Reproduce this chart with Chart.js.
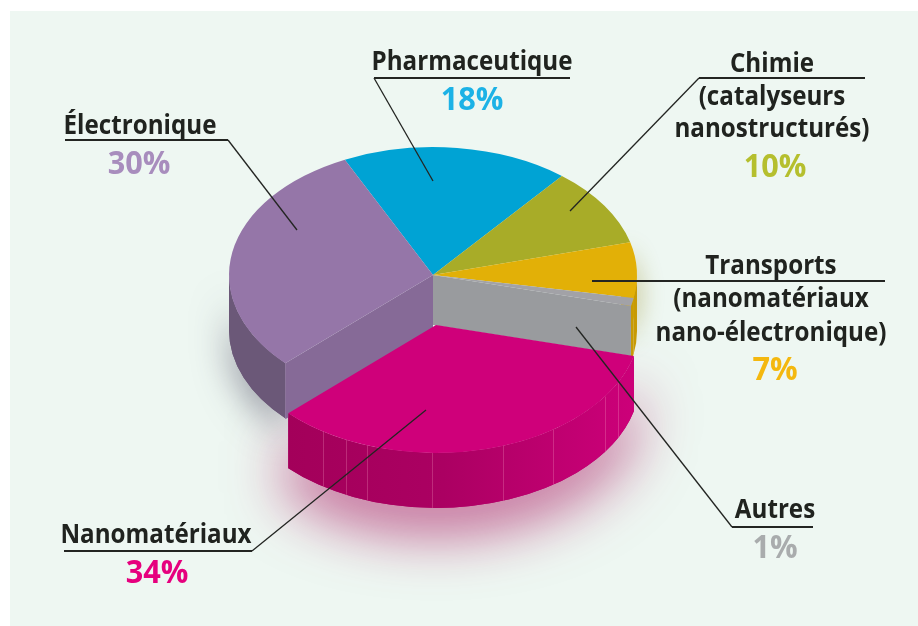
<!DOCTYPE html>
<html lang="fr">
<head>
<meta charset="utf-8">
<title>Nanomatériaux</title>
<style>
  html, body { margin: 0; background: #fff; }
  canvas { display: block; }
</style>
<script src="https://cdn.jsdelivr.net/npm/chart.js@4"></script>
</head>
<body>
<canvas id="camembert" width="918" height="626"></canvas>
<script>
// Donnees
const categories = ['Pharmaceutique', 'Chimie', 'Transports', 'Autres', 'Nanomatériaux', 'Électronique'];
const valeurs = [18, 10, 7, 1, 34, 30];
const couleurs = ['#00a3d4', '#a8ac28', '#e2b007', '#a2a2a7', '#cf007a', '#9576a8'];
const couleursTexte = ['#1cb2e6', '#b5bf2e', '#f4b80f', '#a9acad', '#e6007e', '#a88dbd'];

// Etiquettes : lignes de texte, centre x, lignes de base
const etiquettes = [
  { lignes: ['Pharmaceutique'], x: 472, y: [70], xPct: 472, yPct: 110 },
  { lignes: ['Chimie', '(catalyseurs', 'nanostructurés)'], x: 772, y: [72, 105, 137], xPct: 775, yPct: 177 },
  { lignes: ['Transports', '(nanomatériaux', 'nano-électronique)'], x: 771, y: [274, 307, 341], xPct: 775, yPct: 380 },
  { lignes: ['Autres'], x: 775, y: [518], xPct: 775, yPct: 558 },
  { lignes: ['Nanomatériaux'], x: 156, y: [543], xPct: 157, yPct: 583 },
  { lignes: ['Électronique'], x: 140, y: [134], xPct: 139, yPct: 174 }
];
// Traits de rappel
const traits = [
  [[570, 78], [374, 78], [433, 181]],
  [[865, 78], [699, 78], [570, 211]],
  [[885, 281], [592, 281]],
  [[813, 527], [732, 527], [576, 327]],
  [[64, 551], [252, 551], [426, 410]],
  [[65, 140], [228, 140], [297, 230]]
];
const coutures = [323, 346, 367, 432, 503, 553, 605, 618];

const APLAT = 0.627;     // ecrasement de l'ellipse
const EPAISSEUR = 55;
const DESCENTE = { x: 3, y: 50 }; // part Nanomatériaux abaissee
const RESSERRE = 0.93;   // texte un peu condense
const iNano = categories.indexOf('Nanomatériaux');
const iElec = categories.indexOf('Électronique');
const iAutres = categories.indexOf('Autres');
const iTrans = categories.indexOf('Transports');

// Point sur l'ellipse
const point = (arc, angle) => [
  arc.x + arc.outerRadius * Math.cos(angle),
  arc.y + arc.outerRadius * APLAT * Math.sin(angle)
];

// Flanc exterieur d'une part
function tracerFlanc(ctx, arc, dx, dy, hauteur) {
  const a0 = Math.max(arc.startAngle, 0);
  const a1 = Math.min(arc.endAngle, Math.PI);
  const r = arc.outerRadius;
  ctx.beginPath();
  ctx.ellipse(arc.x + dx, arc.y + dy, r, r * APLAT, 0, a0, a1);
  ctx.ellipse(arc.x + dx, arc.y + dy + hauteur, r, r * APLAT, 0, a1, a0, true);
  ctx.closePath();
}

// Paroi de coupe verticale entre le centre et le bord
function tracerCoupe(ctx, arc, angle, hauteur, couleur) {
  const [px, py] = point(arc, angle);
  ctx.beginPath();
  ctx.moveTo(arc.x, arc.y);
  ctx.lineTo(px, py);
  ctx.lineTo(px, py + hauteur);
  ctx.lineTo(arc.x, arc.y + hauteur);
  ctx.closePath();
  ctx.fillStyle = couleur;
  ctx.fill();
}

// Dessus d'une part, dessine par l'element Chart.js lui-meme
function dessinerDessus(ctx, arc, dx = 0, dy = 0) {
  ctx.save();
  ctx.translate(arc.x + dx, arc.y + dy);
  ctx.scale(1, APLAT);
  ctx.translate(-arc.x, -arc.y);
  arc.draw(ctx);
  ctx.restore();
}

const fond = {
  id: 'fond',
  beforeDraw(chart) {
    const { ctx, width, height } = chart;
    ctx.fillStyle = '#eef7f2';
    ctx.fillRect(10, 11, width - 10, height - 11);
  }
};

const relief = {
  id: 'relief',
  beforeDatasetsDraw(chart) {
    const ctx = chart.ctx;
    const arcs = chart.getDatasetMeta(0).data;
    const nano = arcs[iNano];
    const elec = arcs[iElec];

    // ombres portees
    ctx.save();
    ctx.shadowColor = 'rgba(170, 20, 95, 0.7)';
    ctx.shadowBlur = 58;
    ctx.shadowOffsetY = 24;
    ctx.fillStyle = '#b0006a';
    tracerFlanc(ctx, nano, DESCENTE.x, DESCENTE.y, EPAISSEUR);
    ctx.fill();
    ctx.shadowColor = 'rgba(70, 65, 90, 0.5)';
    ctx.shadowBlur = 34;
    ctx.shadowOffsetY = 14;
    ctx.fillStyle = '#6b5878';
    tracerFlanc(ctx, elec, 0, 0, EPAISSEUR);
    ctx.fill();
    ctx.shadowColor = 'rgba(150, 140, 40, 0.45)';
    ctx.shadowBlur = 22;
    ctx.shadowOffsetY = 0;
    ctx.shadowOffsetX = 4;
    ctx.fillStyle = couleurs[iTrans];
    ctx.beginPath();
    ctx.ellipse(nano.x, nano.y + 20, nano.outerRadius, nano.outerRadius * APLAT, 0, -0.4, 0.4);
    ctx.fill();
    ctx.restore();

    // flancs et coupes
    ctx.fillStyle = '#6b5878';
    tracerFlanc(ctx, elec, 0, 0, EPAISSEUR);
    ctx.fill();
    ctx.fillStyle = '#c79a05';
    tracerFlanc(ctx, arcs[iTrans], 0, 0, DESCENTE.y + 6);
    ctx.fill();
    tracerFlanc(ctx, arcs[iAutres], 0, 0, DESCENTE.y + 6);
    ctx.fill();
    tracerCoupe(ctx, elec, elec.startAngle, DESCENTE.y + 6, '#866a97');
    tracerCoupe(ctx, arcs[iAutres], arcs[iAutres].endAngle, DESCENTE.y, '#999b9e');

    // dessus sauf la part abaissee
    arcs.forEach((arc, i) => {
      if (i !== iNano) dessinerDessus(ctx, arc);
    });

    // part abaissee
    const degrade = ctx.createLinearGradient(nano.x - 145, 0, nano.x + 200, 0);
    degrade.addColorStop(0, '#a3005a');
    degrade.addColorStop(0.45, '#ab0062');
    degrade.addColorStop(1, '#cc0079');
    ctx.fillStyle = degrade;
    tracerFlanc(ctx, nano, DESCENTE.x, DESCENTE.y, EPAISSEUR);
    ctx.fill();

    // coutures du flanc
    ctx.strokeStyle = 'rgba(255, 170, 205, 0.25)';
    ctx.lineWidth = 1;
    const cx = nano.x + DESCENTE.x;
    const cy = nano.y + DESCENTE.y;
    const r = nano.outerRadius;
    coutures.forEach(x => {
      const t = Math.sqrt(Math.max(0, 1 - ((x - cx) / r) ** 2));
      const y = cy + r * APLAT * t;
      ctx.beginPath();
      ctx.moveTo(x + 0.5, y);
      ctx.lineTo(x + 0.5, y + EPAISSEUR);
      ctx.stroke();
    });

    dessinerDessus(ctx, nano, DESCENTE.x, DESCENTE.y);
    return false; // pas de dessin par defaut
  }
};

const legendes = {
  id: 'legendes',
  afterDraw(chart) {
    const ctx = chart.ctx;
    ctx.save();
    ctx.lineCap = 'butt';
    ctx.lineJoin = 'miter';
    ctx.strokeStyle = '#232522';
    traits.forEach(t => {
      // soulignement puis rappel
      ctx.lineWidth = 2;
      ctx.beginPath();
      ctx.moveTo(t[0][0], t[0][1]);
      ctx.lineTo(t[1][0], t[1][1]);
      ctx.stroke();
      if (t[2]) {
        ctx.lineWidth = 1.3;
        ctx.beginPath();
        ctx.moveTo(t[1][0], t[1][1]);
        ctx.lineTo(t[2][0], t[2][1]);
        ctx.stroke();
      }
    });

    ctx.textAlign = 'center';
    ctx.textBaseline = 'alphabetic';
    etiquettes.forEach((e, i) => {
      ctx.fillStyle = '#20231f';
      ctx.font = '700 26px "Open Sans"';
      e.lignes.forEach((l, j) => {
        ctx.fillText(l, e.x, e.y[j], ctx.measureText(l).width * RESSERRE);
      });
      ctx.fillStyle = couleursTexte[i];
      ctx.font = '700 33px "Open Sans"';
      const pct = valeurs[i] + '%';
      ctx.fillText(pct, e.xPct, e.yPct, ctx.measureText(pct).width * RESSERRE);
    });
    ctx.restore();
  }
};

new Chart(document.querySelector('#camembert'), {
  type: 'pie',
  data: {
    labels: categories,
    datasets: [{
      data: valeurs,
      backgroundColor: couleurs,
      borderWidth: 0
    }]
  },
  options: {
    responsive: false,
    animation: false,
    rotation: -25.6,
    layout: { padding: { left: 229, right: 281, top: 71, bottom: 147 } },
    plugins: {
      legend: { display: false },
      tooltip: { enabled: false }
    }
  },
  plugins: [fond, relief, legendes]
});
</script>
</body>
</html>
